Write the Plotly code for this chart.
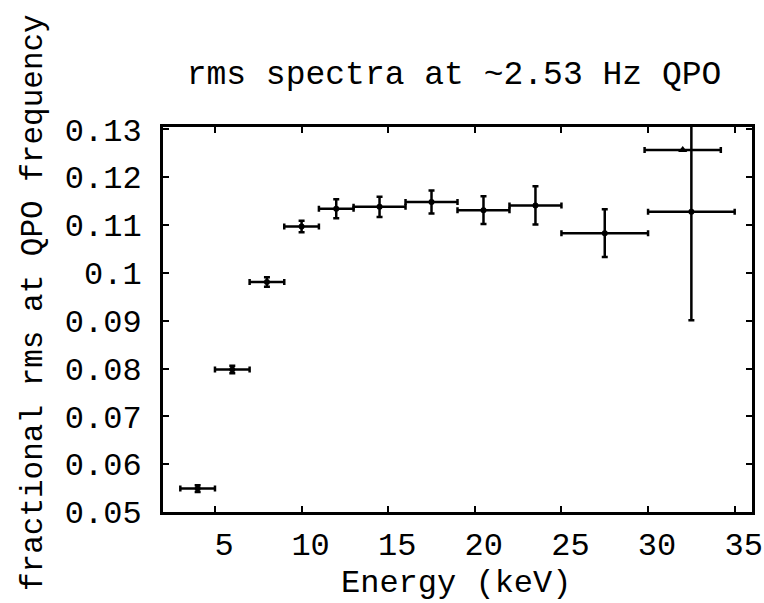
import plotly.graph_objects as go

# Data
energy = [4, 6, 8, 10, 12, 14.5, 17.5, 20.5, 23.5, 27.5, 32.5]
energy_err = [1, 1, 1, 1, 1, 1.5, 1.5, 1.5, 1.5, 2.5, 2.5]
rms = [0.0549, 0.0798, 0.0981, 0.1097, 0.1134, 0.1138, 0.1148, 0.1131, 0.1141, 0.1083, 0.1128]
rms_err = [0.0007, 0.0008, 0.001, 0.0012, 0.002, 0.0021, 0.0024, 0.0029, 0.004, 0.005, 0.0227]

extra_energy = [32.0]
extra_energy_err = [2.2]
extra_rms = [0.1257]

x_ticks = [5, 10, 15, 20, 25, 30, 35]
y_ticks = [0.05, 0.06, 0.07, 0.08, 0.09, 0.1, 0.11, 0.12, 0.13]
y_tick_text = ["0.05", "0.06", "0.07", "0.08", "0.09", "0.1", "0.11", "0.12", "0.13"]

FONT = "Courier New, Courier, Liberation Mono, monospace"

fig = go.Figure()
fig.add_trace(go.Scatter(
    x=energy, y=rms, mode="markers",
    marker=dict(color="black", size=6, symbol="circle"),
    error_x=dict(type="data", array=energy_err, color="black", thickness=2.5, width=3),
    error_y=dict(type="data", array=rms_err, color="black", thickness=2.5, width=3),
    showlegend=False,
))
fig.add_trace(go.Scatter(
    x=extra_energy, y=extra_rms, mode="markers",
    marker=dict(color="black", size=8, symbol="triangle-up"),
    error_x=dict(type="data", array=extra_energy_err, color="black", thickness=2.5, width=3),
    showlegend=False,
))

axis_common = dict(
    showline=True, linecolor="black", linewidth=3, mirror="ticks",
    ticks="inside", ticklen=6, tickwidth=1.5, tickcolor="black",
    showgrid=False, zeroline=False, automargin=False,
    tickfont=dict(family=FONT, size=32, color="black"),
)

fig.update_xaxes(
    range=[2, 36], tickvals=x_ticks, ticktext=[str(v) for v in x_ticks],
    ticklabelstandoff=2, ticklabelshift=9,
    **axis_common,
)
fig.update_yaxes(
    range=[0.05, 0.1305], tickvals=y_ticks, ticktext=y_tick_text,
    ticklabelstandoff=12,
    **axis_common,
)

fig.add_annotation(
    text="Energy (keV)",
    xref="paper", yref="paper", x=(456 - 163) / 589, y=(512 - 583) / 385,
    xanchor="center", yanchor="middle", showarrow=False,
    font=dict(family=FONT, size=32, color="black"),
)
fig.add_annotation(
    text="fractional rms at QPO frequency", textangle=-90,
    xref="paper", yref="paper", x=(33 - 163) / 589, y=(512 - 303) / 385,
    xanchor="center", yanchor="middle", showarrow=False,
    font=dict(family=FONT, size=31, color="black"),
)

fig.update_layout(
    width=764, height=603,
    margin=dict(l=163, r=12, t=127, b=91),
    paper_bgcolor="white", plot_bgcolor="white",
    title=dict(text="rms spectra at ~2.53 Hz QPO", x=(454) / 764, xanchor="center",
               y=1 - 72 / 603, yanchor="middle",
               font=dict(family=FONT, size=33, color="black")),
)

fig.write_html("out.html")
